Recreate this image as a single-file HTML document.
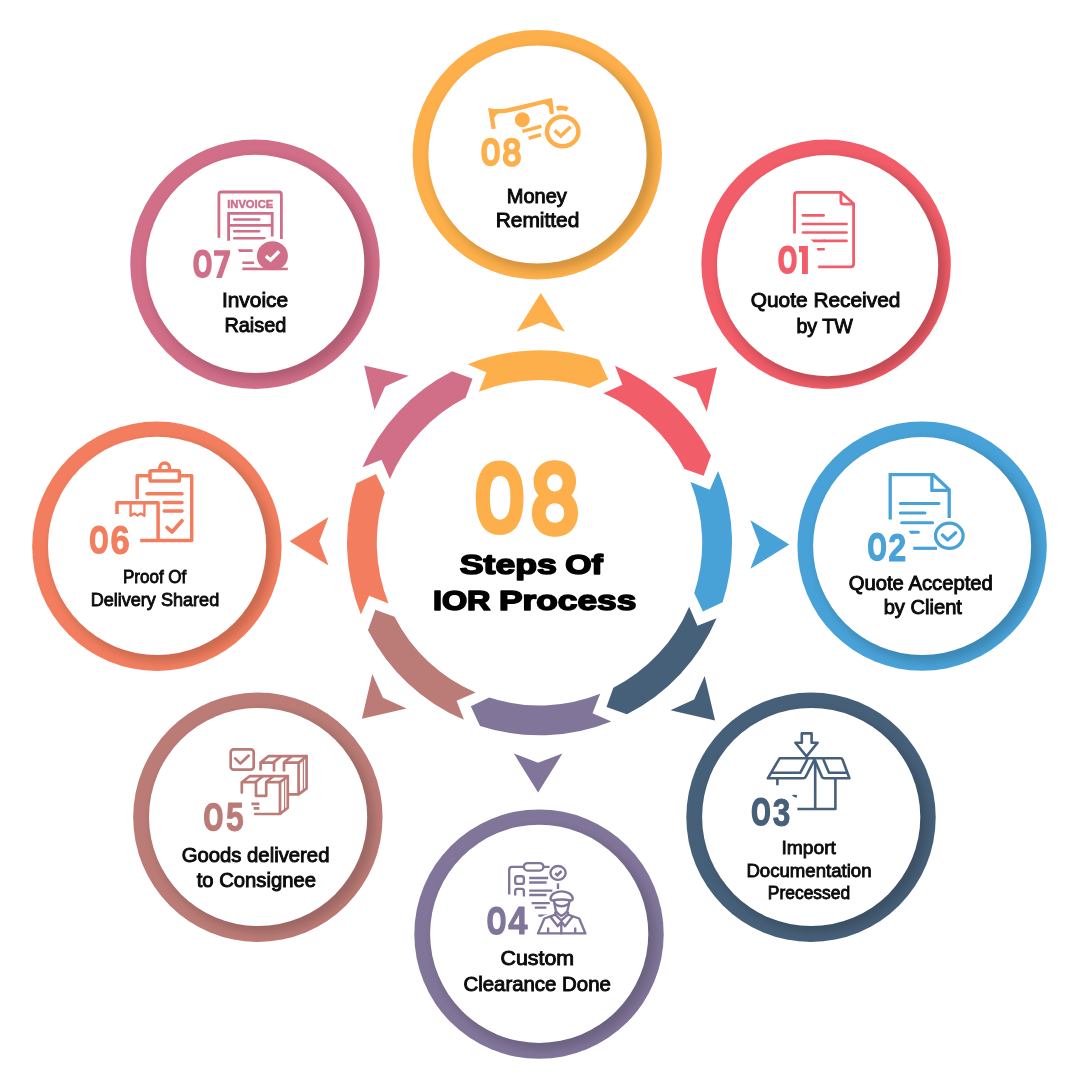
<!DOCTYPE html>
<html lang="en">
<head>
<meta charset="utf-8">
<title>08 Steps Of IOR Process</title>
<style>
html,body{margin:0;padding:0;background:#fff;}
body{width:1080px;height:1080px;overflow:hidden;font-family:"Liberation Sans",sans-serif;}
svg{display:block;}
text{font-family:"Liberation Sans",sans-serif;}
.ic{fill:none;stroke-linecap:round;stroke-linejoin:round;}
</style>
</head>
<body>
<svg width="1080" height="1080" viewBox="0 0 1080 1080">
<defs>
<filter id="bl" x="-20%" y="-20%" width="140%" height="140%"><feGaussianBlur stdDeviation="4.0"/></filter>
<clipPath id="c08"><circle cx="537.3" cy="154.8" r="124.7"/></clipPath>
<clipPath id="c01"><circle cx="826.1" cy="264.2" r="133.7"/></clipPath>
<clipPath id="c02"><circle cx="922.1" cy="546.1" r="124.7"/></clipPath>
<clipPath id="c03"><circle cx="811" cy="817.3" r="124.7"/></clipPath>
<clipPath id="c04"><circle cx="539" cy="934.15" r="124.7"/></clipPath>
<clipPath id="c05"><circle cx="257.9" cy="817.3" r="124.7"/></clipPath>
<clipPath id="c06"><circle cx="156.9" cy="546.2" r="124.7"/></clipPath>
<clipPath id="c07"><circle cx="255" cy="264.2" r="124.7"/></clipPath>
</defs>
<rect width="1080" height="1080" fill="#ffffff"/>
<path d="M467.7 364.19 A192.5 192.5 0 0 1 598.99 359.72 L608.21 379.35 L589.78 388.06 A162.7 162.7 0 0 0 478.81 391.84 L486.45 372.47 Z" fill="#FCAF4A"/>
<path d="M615.02 365.73 A192.5 192.5 0 0 1 711.02 455.41 L703.66 475.81 L684.47 468.94 A162.7 162.7 0 0 0 603.33 393.15 L622.43 384.85 Z" fill="#F15D68"/>
<path d="M718.11 471 A192.5 192.5 0 0 1 722.58 602.29 L702.95 611.51 L694.24 593.08 A162.7 162.7 0 0 0 690.46 482.11 L709.83 489.75 Z" fill="#48A2D7"/>
<path d="M716.57 618.32 A192.5 192.5 0 0 1 626.89 714.32 L606.49 706.96 L613.36 687.77 A162.7 162.7 0 0 0 689.15 606.63 L697.45 625.73 Z" fill="#476079"/>
<path d="M611.3 721.41 A192.5 192.5 0 0 1 480.01 725.88 L470.79 706.25 L489.22 697.54 A162.7 162.7 0 0 0 600.19 693.76 L592.55 713.13 Z" fill="#817599"/>
<path d="M463.98 719.87 A192.5 192.5 0 0 1 367.98 630.19 L375.34 609.79 L394.53 616.66 A162.7 162.7 0 0 0 475.67 692.45 L456.57 700.75 Z" fill="#BB7B76"/>
<path d="M360.89 614.6 A192.5 192.5 0 0 1 356.42 483.31 L376.05 474.09 L384.76 492.52 A162.7 162.7 0 0 0 388.54 603.49 L369.17 595.85 Z" fill="#F27E5F"/>
<path d="M362.43 467.28 A192.5 192.5 0 0 1 452.11 371.28 L472.51 378.64 L465.64 397.83 A162.7 162.7 0 0 0 389.85 478.97 L381.55 459.87 Z" fill="#D16E88"/>
<path d="M540.8 292.9 L565.05 331.8 L540.8 322.6 L516.55 331.8Z" fill="#FCAF4A"/>
<path d="M717.07 367.13 L706.71 411.78 L696.07 388.13 L672.42 377.49Z" fill="#F15D68"/>
<path d="M789.3 544.4 L750.4 568.65 L759.6 544.4 L750.4 520.15Z" fill="#48A2D7"/>
<path d="M715.07 720.57 L670.42 710.21 L694.07 699.57 L704.71 675.92Z" fill="#476079"/>
<path d="M538.1 792.5 L513.85 753.6 L538.1 762.8 L562.35 753.6Z" fill="#817599"/>
<path d="M361.93 718.77 L372.29 674.12 L382.93 697.77 L406.58 708.41Z" fill="#BB7B76"/>
<path d="M289.6 541.3 L328.5 517.05 L319.3 541.3 L328.5 565.55Z" fill="#F27E5F"/>
<path d="M364.13 365.43 L408.78 375.79 L385.13 386.43 L374.49 410.08Z" fill="#D16E88"/>
<circle cx="537.3" cy="154.8" r="124.7" fill="#FCAF4A"/>
<g clip-path="url(#c08)"><circle cx="542.5" cy="159.5" r="111.1" fill="#000" opacity="0.155" filter="url(#bl)"/></g>
<circle cx="537.5" cy="154.5" r="109.1" fill="#fff"/>
<circle cx="826.1" cy="264.2" r="124.7" fill="#F15D68"/>
<g clip-path="url(#c01)"><circle cx="832.6" cy="270.6" r="112.6" fill="#000" opacity="0.19" filter="url(#bl)"/></g>
<circle cx="827.6" cy="265.6" r="110.6" fill="#fff"/>
<circle cx="922.1" cy="546.1" r="124.7" fill="#48A2D7"/>
<g clip-path="url(#c02)"><circle cx="927.1" cy="551.1" r="111" fill="#000" opacity="0.155" filter="url(#bl)"/></g>
<circle cx="922.1" cy="546.1" r="109" fill="#fff"/>
<circle cx="811" cy="817.3" r="124.7" fill="#476079"/>
<g clip-path="url(#c03)"><circle cx="816.2" cy="822" r="111.1" fill="#000" opacity="0.155" filter="url(#bl)"/></g>
<circle cx="811.2" cy="817" r="109.1" fill="#fff"/>
<circle cx="539" cy="934.15" r="124.7" fill="#817599"/>
<g clip-path="url(#c04)"><circle cx="544.2" cy="938.85" r="111.1" fill="#000" opacity="0.155" filter="url(#bl)"/></g>
<circle cx="539.2" cy="933.85" r="109.1" fill="#fff"/>
<circle cx="257.9" cy="817.3" r="124.7" fill="#BB7B76"/>
<g clip-path="url(#c05)"><circle cx="263.1" cy="822" r="111.1" fill="#000" opacity="0.155" filter="url(#bl)"/></g>
<circle cx="258.1" cy="817" r="109.1" fill="#fff"/>
<circle cx="156.9" cy="546.2" r="124.7" fill="#F27E5F"/>
<g clip-path="url(#c06)"><circle cx="162.1" cy="550.9" r="111.1" fill="#000" opacity="0.155" filter="url(#bl)"/></g>
<circle cx="157.1" cy="545.9" r="109.1" fill="#fff"/>
<circle cx="255" cy="264.2" r="124.7" fill="#D16E88"/>
<g clip-path="url(#c07)"><circle cx="260.2" cy="268.9" r="111.1" fill="#000" opacity="0.155" filter="url(#bl)"/></g>
<circle cx="255.2" cy="263.9" r="109.1" fill="#fff"/>
<g id="icon08"><path d="M493.7 128.8 L490.7 110.6 C506 113.6 527 104.8 550.3 100.5 L551.9 114" fill="none" stroke="#FCAF4A" stroke-width="4.3" stroke-linejoin="miter" stroke-linecap="butt"/><path d="M491.4 111.4 L499.8 112.2 Q496 114.2 494 118.6 Z" fill="#FCAF4A"/><path d="M551.2 101.4 L542.6 103.4 Q547.6 104.6 550.8 109.2 Z" fill="#FCAF4A"/><circle cx="522.3" cy="119.7" r="7.5" fill="#FCAF4A"/><path d="M522.4 131.4 L541.4 126.2 M528.6 138.3 L541 134.7" fill="none" stroke="#FCAF4A" stroke-width="3.5" stroke-linecap="butt"/><path d="M556.6 108.5 Q562.2 107.0 567.6 109.4" fill="none" stroke="#FCAF4A" stroke-width="4.7" stroke-linecap="butt"/><ellipse cx="562.7" cy="131.5" rx="15.7" ry="14.8" fill="#fff" stroke="#FCAF4A" stroke-width="4.5"/><path d="M554.7 130.4 L560.8 136 L570.6 126.7" fill="none" stroke="#FCAF4A" stroke-width="3.5" stroke-linecap="butt" stroke-linejoin="miter"/></g>
<g id="icon01"><g class="ic" stroke="#F15D68" stroke-width="2.8"><path d="M794.5 233.6 V195.2 Q794.5 192.4 797.3 192.4 H840.9 L853.6 203.8 V264 Q853.6 266.8 850.8 266.8 H818.2" stroke-linecap="butt"/><path d="M840.9 192.6 V201.6 Q840.9 204.2 843.5 204.2 H853.4"/></g><g class="ic" stroke="#F15D68" stroke-width="2.6"><path d="M802.9 215.4 H823.7 M802.9 224 H846.6 M802.9 232.5 H846.6 M824 240.9 H846.6 M818.6 249.3 H823.7"/></g><path d="M810.6 239.6 H825 V242.2 H813.6 Z M816.6 248 H820 V250.6 H818.2 Z" fill="#F15D68"/></g>
<g id="icon02"><g class="ic" stroke="#48A2D7" stroke-width="3.3"><path d="M890.2 519.6 V474.7 H933.3 L949.2 489.6 V517.9" stroke-linecap="butt" stroke-linejoin="miter"/><path d="M931.9 475 V490.3 H949" stroke-linejoin="miter" stroke-linecap="butt"/></g><g class="ic" stroke="#48A2D7" stroke-width="3.0"><path d="M900.3 503.6 H939 M900.3 513.1 H925 M901.6 522.8 H932.6 M912 532.2 H918.4"/></g><path d="M908.6 530.7 H913 V533.7 H910.6 Z" fill="#48A2D7"/><path d="M913.3 548.3 H937" fill="none" stroke="#48A2D7" stroke-width="3.2" stroke-linecap="butt"/><ellipse cx="949.3" cy="535.8" rx="17.4" ry="16.2" fill="#fff"/><ellipse cx="949.3" cy="535.8" rx="13.8" ry="12.6" fill="#fff" stroke="#48A2D7" stroke-width="3.3"/><g class="ic" stroke="#48A2D7" stroke-width="3.3"><path d="M942.4 535.1 L947.8 539.9 L955.7 532.7"/></g></g>
<g id="icon03"><g class="ic" stroke="#476079" stroke-width="2.6"><path d="M801.8 733.4 H811.6 V742.8 H817.6 L806.5 756.4 L795.4 742.8 H801.8 Z"/><path d="M813.2 758.3 H779.6 L767.8 778.3 H803.2 Q805 778.3 805.8 776.6 L814.6 759.4"/><path d="M771.6 772.7 H800.4 L807.6 759"/><path d="M813.2 758.3 H840.6 Q842 758.3 842.6 759.8 L849.4 778.2 H824.2 Q822.6 778.2 821.8 776.6 L815.6 762"/><path d="M823.4 759.6 L829 772.8 H846.8"/><path d="M815.2 760 V808.8 M835.4 778.4 V809 H797.4 M777.4 778.4 V785.2" stroke-linecap="butt"/></g><path d="M791.7 794.9 Q794.5 794.6 797 795 L796.9 797.8 Q793.6 797.4 791.7 794.9 Z" fill="#476079"/></g>
<g id="icon04"><g class="ic" stroke="#817599" stroke-width="2.35"><path d="M509.2 894.6 V869.6 Q509.2 866.8 512 866.8 H523.6 M543.6 866.8 H549.6" stroke-linecap="butt"/><rect x="523.9" y="863.1" width="19.5" height="7.5" rx="3.7"/><ellipse cx="558.05" cy="872.9" rx="7.6" ry="6.9"/><path d="M558 883.4 V889" stroke-linecap="butt"/><rect x="515.2" y="876.2" width="8.7" height="7.7" rx="2.2"/><path d="M515.2 895.6 V891.1 Q515.2 888.9 517.4 888.9 H521.7 Q523.9 888.9 523.9 891.1 V896.4" stroke-linecap="butt"/><path d="M529.2 878 H548.2 M529.2 882.5 H546.6 M529.2 890.6 H552.4 M529.2 895 H546.6 M531.6 903.1 H549.8 M534.8 907.6 H546.4 M538.4 915.6 H547" stroke-linecap="butt"/></g><path d="M555.2 873.2 L557.4 875.2 L561.6 871" fill="none" stroke="#817599" stroke-width="2.6" stroke-linecap="butt"/><path d="M536.4 935 L543.4 917.4 L553.4 913.6 L552.6 903.6 L549 899 Q550.4 892.6 561.3 889.8 Q572.6 892.6 574.4 899 L570.8 903.6 L570 913.6 L580.4 917.4 L587.2 935 Z" fill="#fff" stroke="#fff" stroke-width="3" stroke-linejoin="round"/><g class="ic" stroke="#817599" stroke-width="2.35"><path d="M550.5 898.6 C551 893.4 557 891.3 561.5 891.3 C566 891.3 572.2 893.4 572.8 898.6 Q572.4 900.7 570.6 900.5 Q561.3 898.4 552.8 900.5 Q550.8 900.7 550.5 898.6 Z"/><path d="M554 901 L554.5 903.8 Q561.3 908.8 569 903.8 L569.5 901"/><path d="M554.5 903.8 L555.9 911.3 Q558.4 914.8 561.3 915.8 Q564.6 914.8 567.3 911.3 L569 903.8"/><path d="M555.3 911.8 V915 M568 911.8 V915" stroke-linecap="butt"/><path d="M555.3 914.7 L544.4 918.5 L538 933.4 H585.4 L579.2 918.5 L568 914.7"/><path d="M555.6 915.2 L561.3 920.4 L567.4 915.2 M550.8 917.3 L557.8 926.2 L561.3 921.6 L565 926.2 L572 917.3 M561.3 921.6 V933.2"/><path d="M548.1 927.6 V933.2 M575.2 927.6 V933.2" stroke-linecap="butt"/></g></g>
<g id="icon05"><g class="ic" stroke="#BB7B76" stroke-width="2.7"><rect x="230.7" y="749.3" width="23" height="20.4" rx="3"/><path d="M235.2 758.4 L240.4 763.6 L248.8 755.6"/><path d="M260.6 769.4 V762.6 L268.4 756.2 H306.6 L298.8 762.6 H284 M274 762.6 H260.6"/><path d="M306.6 756.2 V788.4 L298.6 794.4 H289.2 M298.6 762.6 V794.4"/><path d="M273.4 762.4 L281.2 756.2 M284 762.4 L291.8 756.2 M274 762.6 V771.4 M284 762.6 V771.4" stroke-linecap="butt"/><path d="M241.8 792.6 V782.2 L249.6 776.2 H287.8 L280 782.2 H266.2 M256 782.2 H241.8"/><path d="M287.8 776.2 V807.8 L280 814 H255.2 M280 782.2 V814"/><path d="M255.6 782 L262.8 776.2 M266.2 782 L273.4 776.2 M256 782.2 V795.8 H266.2 V782.2" stroke-linecap="butt"/><path d="M251.4 803.9 H259.4 M253.6 808.4 H259.4" stroke-linecap="butt"/></g><g class="ic" stroke="#BB7B76" stroke-width="1.2"><path d="M303.4 759.8 V790 M284.6 779.8 V810"/></g></g>
<g id="icon06"><g class="ic" stroke="#F27E5F" stroke-width="3.5"><path d="M137.2 499 V475.8 H150 M179.4 475.8 H191.7 V540.6 H140.2" stroke-linecap="butt" stroke-linejoin="round"/><rect x="150" y="470.7" width="29.4" height="10.4" rx="1.2"/><path d="M159.8 470.2 V468 A4.9 4.9 0 0 1 169.6 468 V470.2" stroke-linecap="butt"/><path d="M147 493.7 H182 M164.2 502.4 H182 M164.2 511.1 H182"/><path d="M117 514 V502.8 H158.1 V540.4" stroke-linecap="butt" stroke-linejoin="round"/></g><g class="ic" stroke="#F27E5F" stroke-width="2.4"><path d="M130.6 503 V515.8 L134.4 513.4 L137.5 515.6 L140.8 513.4 L144.4 515.8 V503" stroke-linecap="butt"/></g><g class="ic" stroke="#F27E5F" stroke-width="3.8"><path d="M167.2 527.6 L172 531.9 L182 520.8"/></g></g>
<g id="icon07"><g class="ic" stroke="#D16E88" stroke-width="2.8"><path d="M218.9 237.8 V194.4 Q218.9 192 221.3 192 H279 Q281.4 192 281.4 194.4 V239" stroke-linecap="butt"/><path d="M228.6 240.8 V213.3 H272.2 V236.6 M228.6 225.3 H272.2" stroke-linecap="butt" stroke-linejoin="miter"/></g><g class="ic" stroke="#D16E88" stroke-width="2.5"><path d="M234.2 219.4 H259.2 M234.2 231.3 H259.2 M234.2 238.2 H264.6"/></g><text x="227.2" y="207.8" font-size="11.2" font-weight="bold" textLength="46.1" lengthAdjust="spacingAndGlyphs" fill="#D16E88" stroke="#D16E88" stroke-width=".5" opacity="0.999">INVOICE</text><g class="ic" stroke="#D16E88" stroke-width="2.6"><path d="M239.6 250.6 H252.6 M242.4 262.8 H254.2 M242.4 268.9 H287.8" stroke-linecap="butt"/></g><path d="M237.6 249.3 H241 V251.9 H239.4 Z" fill="#D16E88"/><clipPath id="k07"><rect x="240" y="230" width="60" height="37.5"/></clipPath><clipPath id="k07b"><rect x="240" y="230" width="60" height="40.2"/></clipPath><ellipse cx="272.4" cy="255.9" rx="19.2" ry="18.2" fill="#fff" clip-path="url(#k07)"/><ellipse cx="272.4" cy="255.9" rx="15.5" ry="14.7" fill="#D16E88" clip-path="url(#k07b)"/><path d="M265.8 256.2 L270.6 260 L279.2 251.3" fill="none" stroke="#fff" stroke-width="3.4" stroke-linecap="butt" stroke-linejoin="miter"/></g>
<g opacity="0.999">
<path d="M481.3 152 C481.3 142.13 484.93 137.7 490.6 137.7 C496.27 137.7 499.9 142.13 499.9 152 C499.9 161.87 496.27 166.3 490.6 166.3 C484.93 166.3 481.3 161.87 481.3 152 Z" fill="#FCAF4A"/><path d="M486.79 152 C486.79 145.98 488.31 143.63 490.79 143.63 C493.27 143.63 494.78 145.98 494.78 152 C494.78 158.02 493.27 160.37 490.79 160.37 C488.31 160.37 486.79 158.02 486.79 152 Z" fill="#fff"/>
<path d="M503.47 145.69 C503.47 140.9 506.8 137.7 511.8 137.7 C516.79 137.7 520.12 140.9 520.12 145.69 C520.12 150.48 516.79 153.68 511.8 153.68 C506.8 153.68 503.47 150.48 503.47 145.69 Z" fill="#FCAF4A"/><path d="M502.8 157.75 C502.8 152.32 506.42 148.7 511.85 148.7 C517.28 148.7 520.9 152.32 520.9 157.75 C520.9 163.18 517.28 166.8 511.85 166.8 C506.42 166.8 502.8 163.18 502.8 157.75 Z" fill="#FCAF4A"/><path d="M508.79 146.26 C508.79 144.36 510.05 142.98 511.8 142.98 C513.54 142.98 514.8 144.36 514.8 146.26 C514.8 148.15 513.54 149.53 511.8 149.53 C510.05 149.53 508.79 148.15 508.79 146.26 Z" fill="#fff"/><path d="M508.22 157.76 C508.22 155.61 509.75 154.05 511.85 154.05 C513.95 154.05 515.48 155.61 515.48 157.76 C515.48 159.92 513.95 161.47 511.85 161.47 C509.75 161.47 508.22 159.92 508.22 157.76 Z" fill="#fff"/>
<path d="M778.3 259.85 C778.3 250.02 781.89 245.6 787.5 245.6 C793.11 245.6 796.7 250.02 796.7 259.85 C796.7 269.68 793.11 274.1 787.5 274.1 C781.89 274.1 778.3 269.68 778.3 259.85 Z" fill="#F15D68"/><path d="M783.73 259.85 C783.73 253.85 785.23 251.51 787.68 251.51 C790.14 251.51 791.64 253.85 791.64 259.85 C791.64 265.85 790.14 268.19 787.68 268.19 C785.23 268.19 783.73 265.85 783.73 259.85 Z" fill="#fff"/>
<path d="M799 246.1 H807.9 V274 H802 V252.2 H799 Z" fill="#F15D68"/>
<path d="M868 546.85 C868 536.95 871.53 532.5 877.05 532.5 C882.57 532.5 886.1 536.95 886.1 546.85 C886.1 556.75 882.57 561.2 877.05 561.2 C871.53 561.2 868 556.75 868 546.85 Z" fill="#48A2D7"/><path d="M873.34 546.85 C873.34 540.81 874.82 538.46 877.23 538.46 C879.64 538.46 881.12 540.81 881.12 546.85 C881.12 552.89 879.64 555.24 877.23 555.24 C874.82 555.24 873.34 552.89 873.34 546.85 Z" fill="#fff"/>
<text transform="matrix(0.3229 0 0 0.3957 888.22 560.55)" font-size="100" font-weight="bold" fill="#48A2D7" stroke="#48A2D7" stroke-linejoin="round" stroke-width="2.5">2</text>
<path d="M751.7 811.75 C751.7 801.92 755.29 797.5 760.9 797.5 C766.51 797.5 770.1 801.92 770.1 811.75 C770.1 821.58 766.51 826 760.9 826 C755.29 826 751.7 821.58 751.7 811.75 Z" fill="#476079"/><path d="M757.13 811.75 C757.13 805.75 758.63 803.41 761.08 803.41 C763.54 803.41 765.04 805.75 765.04 811.75 C765.04 817.75 763.54 820.09 761.08 820.09 C758.63 820.09 757.13 817.75 757.13 811.75 Z" fill="#fff"/>
<text transform="matrix(0.3156 0 0 0.3958 772.74 825.56)" font-size="100" font-weight="bold" fill="#476079" stroke="#476079" stroke-linejoin="round" stroke-width="2.53">3</text>
<path d="M487.3 920.8 C487.3 910.93 490.89 906.5 496.5 906.5 C502.11 906.5 505.7 910.93 505.7 920.8 C505.7 930.67 502.11 935.1 496.5 935.1 C490.89 935.1 487.3 930.67 487.3 920.8 Z" fill="#817599"/><path d="M492.73 920.8 C492.73 914.78 494.23 912.43 496.68 912.43 C499.14 912.43 500.64 914.78 500.64 920.8 C500.64 926.82 499.14 929.17 496.68 929.17 C494.23 929.17 492.73 926.82 492.73 920.8 Z" fill="#fff"/>
<text transform="matrix(0.3458 0 0 0.3884 508.23 934.35)" font-size="100" font-weight="bold" fill="#817599" stroke="#817599" stroke-linejoin="round" stroke-width="2.45">4</text>
<path d="M204 816.98 C204 807.13 207.65 802.7 213.35 802.7 C219.05 802.7 222.7 807.13 222.7 816.98 C222.7 826.82 219.05 831.25 213.35 831.25 C207.65 831.25 204 826.82 204 816.98 Z" fill="#BB7B76"/><path d="M209.52 816.98 C209.52 810.96 211.04 808.62 213.54 808.62 C216.03 808.62 217.56 810.96 217.56 816.98 C217.56 822.99 216.03 825.33 213.54 825.33 C211.04 825.33 209.52 822.99 209.52 816.98 Z" fill="#fff"/>
<text transform="matrix(0.3196 0 0 0.3978 226.09 830.95)" font-size="100" font-weight="bold" fill="#BB7B76" stroke="#BB7B76" stroke-linejoin="round" stroke-width="2.51">5</text>
<path d="M89.8 539.8 C89.8 529.93 93.33 525.5 98.85 525.5 C104.37 525.5 107.9 529.93 107.9 539.8 C107.9 549.67 104.37 554.1 98.85 554.1 C93.33 554.1 89.8 549.67 89.8 539.8 Z" fill="#F27E5F"/><path d="M95.14 539.8 C95.14 533.78 96.62 531.43 99.03 531.43 C101.44 531.43 102.92 533.78 102.92 539.8 C102.92 545.82 101.44 548.17 99.03 548.17 C96.62 548.17 95.14 545.82 95.14 539.8 Z" fill="#fff"/>
<text transform="matrix(0.3461 0 0 0.4 110.45 553.85)" font-size="100" font-weight="bold" fill="#F27E5F" stroke="#F27E5F" stroke-linejoin="round" stroke-width="2.41">6</text>
<path d="M193.3 263.82 C193.3 253.94 196.89 249.5 202.5 249.5 C208.11 249.5 211.7 253.94 211.7 263.82 C211.7 273.71 208.11 278.15 202.5 278.15 C196.89 278.15 193.3 273.71 193.3 263.82 Z" fill="#D16E88"/><path d="M198.73 263.82 C198.73 257.79 200.23 255.44 202.68 255.44 C205.14 255.44 206.64 257.79 206.64 263.82 C206.64 269.86 205.14 272.21 202.68 272.21 C200.23 272.21 198.73 269.86 198.73 263.82 Z" fill="#fff"/>
<path d="M214 250.15 H230.1 V253.9 L221.8 278 H216.1 L223.9 255.7 H214 Z" fill="#D16E88"/>
<text transform="matrix(0.2003 0 0 0.205 506.72 202.5)" font-size="100" fill="#0b0b0b" stroke="#0b0b0b" stroke-width="4.69">Money</text>
<text transform="matrix(0.2089 0 0 0.205 495.75 227.3)" font-size="100" fill="#0b0b0b" stroke="#0b0b0b" stroke-width="4.59">Remitted</text>
<text transform="matrix(0.2087 0 0 0.205 750.78 307)" font-size="100" fill="#0b0b0b" stroke="#0b0b0b" stroke-width="4.59">Quote Received</text>
<text transform="matrix(0.1964 0 0 0.205 796.4 333)" font-size="100" fill="#0b0b0b" stroke="#0b0b0b" stroke-width="4.73">by TW</text>
<text transform="matrix(0.2026 0 0 0.205 848.71 590)" font-size="100" fill="#0b0b0b" stroke="#0b0b0b" stroke-width="4.66">Quote Accepted</text>
<text transform="matrix(0.2013 0 0 0.205 883.67 613.9)" font-size="100" fill="#0b0b0b" stroke="#0b0b0b" stroke-width="4.68">by Client</text>
<text transform="matrix(0.1924 0 0 0.18 781.44 854.2)" font-size="100" fill="#0b0b0b" stroke="#0b0b0b" stroke-width="4.48">Import</text>
<text transform="matrix(0.1863 0 0 0.18 746.38 876.5)" font-size="100" fill="#0b0b0b" stroke="#0b0b0b" stroke-width="4.55">Documentation</text>
<text transform="matrix(0.1745 0 0 0.18 767.78 898.6)" font-size="100" fill="#0b0b0b" stroke="#0b0b0b" stroke-width="4.71">Precessed</text>
<text transform="matrix(0.2137 0 0 0.205 500.51 964.6)" font-size="100" fill="#0b0b0b" stroke="#0b0b0b" stroke-width="4.54">Custom</text>
<text transform="matrix(0.2041 0 0 0.205 463.45 990.6)" font-size="100" fill="#0b0b0b" stroke="#0b0b0b" stroke-width="4.64">Clearance Done</text>
<text transform="matrix(0.203 0 0 0.205 181.66 861.5)" font-size="100" fill="#0b0b0b" stroke="#0b0b0b" stroke-width="4.66">Goods delivered</text>
<text transform="matrix(0.2027 0 0 0.205 196.67 886.6)" font-size="100" fill="#0b0b0b" stroke="#0b0b0b" stroke-width="4.66">to Consignee</text>
<text transform="matrix(0.1704 0 0 0.18 122.91 583.1)" font-size="100" fill="#0b0b0b" stroke="#0b0b0b" stroke-width="4.76">Proof Of</text>
<text transform="matrix(0.1808 0 0 0.18 90.63 605.6)" font-size="100" fill="#0b0b0b" stroke="#0b0b0b" stroke-width="4.62">Delivery Shared</text>
<text transform="matrix(0.2089 0 0 0.205 221.94 306.7)" font-size="100" fill="#0b0b0b" stroke="#0b0b0b" stroke-width="4.59">Invoice</text>
<text transform="matrix(0.1987 0 0 0.205 224.44 331.8)" font-size="100" fill="#0b0b0b" stroke="#0b0b0b" stroke-width="4.71">Raised</text>
<path d="M475.8 497.85 C475.8 472.15 485.1 460.6 499.65 460.6 C514.2 460.6 523.5 472.15 523.5 497.85 C523.5 523.55 514.2 535.1 499.65 535.1 C485.1 535.1 475.8 523.55 475.8 497.85 Z" fill="#FCAF4A"/><path d="M489.87 497.85 C489.87 482.16 493.77 476.06 500.13 476.06 C506.49 476.06 510.38 482.16 510.38 497.85 C510.38 513.54 506.49 519.64 500.13 519.64 C493.77 519.64 489.87 513.54 489.87 497.85 Z" fill="#fff"/>
<path d="M533.61 481.3 C533.61 468.7 542.09 460.3 554.81 460.3 C567.54 460.3 576.02 468.7 576.02 481.3 C576.02 493.9 567.54 502.3 554.81 502.3 C542.09 502.3 533.61 493.9 533.61 481.3 Z" fill="#FCAF4A"/><path d="M531.9 513.01 C531.9 498.73 541.12 489.22 554.95 489.22 C568.78 489.22 578 498.73 578 513.01 C578 527.28 568.78 536.8 554.95 536.8 C541.12 536.8 531.9 527.28 531.9 513.01 Z" fill="#FCAF4A"/><path d="M547.16 482.79 C547.16 477.8 550.37 474.19 554.81 474.19 C559.25 474.19 562.46 477.8 562.46 482.79 C562.46 487.78 559.25 491.39 554.81 491.39 C550.37 491.39 547.16 487.78 547.16 482.79 Z" fill="#fff"/><path d="M545.71 513.05 C545.71 507.39 549.59 503.29 554.95 503.29 C560.31 503.29 564.19 507.39 564.19 513.05 C564.19 518.7 560.31 522.8 554.95 522.8 C549.59 522.8 545.71 518.7 545.71 513.05 Z" fill="#fff"/>
<text transform="matrix(0.3566 0 0 0.275 459.83 574.1)" font-size="100" font-weight="bold" fill="#000" stroke="#000" stroke-linejoin="round" stroke-width="5.7">Steps</text>
<text transform="matrix(0.3385 0 0 0.275 565.15 574.1)" font-size="100" font-weight="bold" fill="#000" stroke="#000" stroke-linejoin="round" stroke-width="5.87">Of</text>
<text transform="matrix(0.3241 0 0 0.275 432.91 609.6)" font-size="100" font-weight="bold" fill="#000" stroke="#000" stroke-linejoin="round" stroke-width="6.01">IOR</text>
<text transform="matrix(0.3532 0 0 0.275 498.92 609.6)" font-size="100" font-weight="bold" fill="#000" stroke="#000" stroke-linejoin="round" stroke-width="5.73">Process</text>
</g>
</svg>
</body>
</html>
